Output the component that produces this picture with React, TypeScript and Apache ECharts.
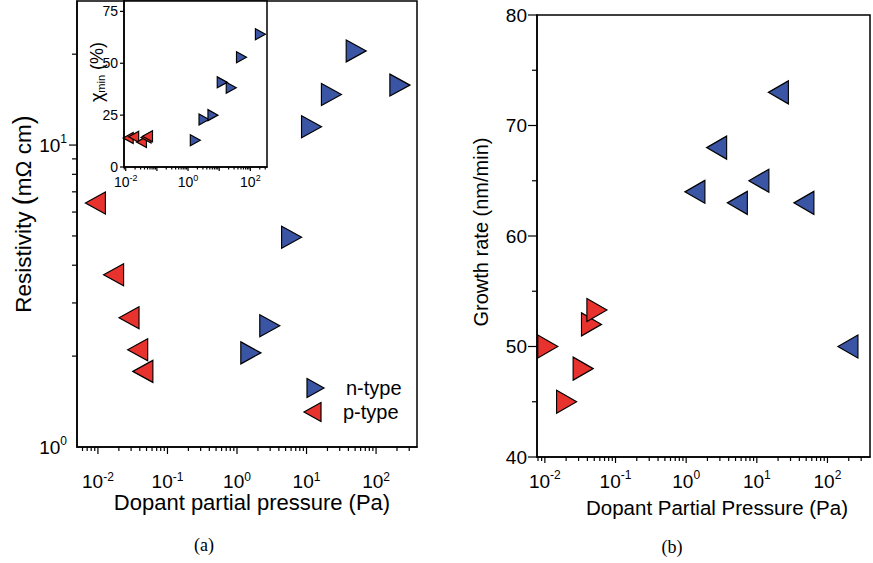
import { useEffect, useRef } from "react";
import * as echarts from "echarts";

// ---- Panel (a): resistivity vs dopant partial pressure ----
const nTypePressureA = [1.58, 2.96, 6.1, 11.8, 22.8, 51.8, 220];
const nTypeResistivity = [2.05, 2.52, 4.95, 11.5, 14.7, 20.5, 15.8];
const pTypePressureA = [0.0092, 0.0168, 0.028, 0.0373, 0.0443];
const pTypeResistivity = [6.43, 3.72, 2.68, 2.1, 1.78];

// ---- Inset of (a): chi_min vs dopant partial pressure ----
const nTypePressureInset = [1.71, 3.25, 6.3, 12.5, 24.3, 51.9, 210];
const nTypeChiMin = [12.9, 22.9, 25, 40.8, 38.2, 52.9, 64];
const pTypePressureInset = [0.012, 0.018, 0.032, 0.045, 0.05];
const pTypeChiMin = [14, 14.6, 12, 14.2, 14.8];

// ---- Panel (b): growth rate vs dopant partial pressure ----
const nTypePressureB = [1.33, 2.7, 5.3, 10.7, 20.2, 46.4, 195];
const nTypeGrowth = [64, 68, 63, 65, 73, 63, 50];
const pTypePressureB = [0.011, 0.0203, 0.0348, 0.0457, 0.0545];
const pTypeGrowth = [50, 45, 48, 52, 53.3];

// Axis ranges and labelled ticks
const xRangeA = [0.005, 388];
const yRangeA = [1, 30];
const xRangeInset = [0.0088, 342];
const insetLabelExponents = [-2, 0, 2];
const yRangeInset = [0, 80];
const chiTicks = [0, 25, 50, 75];
const xRangeB = [0.00774, 400];
const yRangeB = [40, 80];
const growthTicks = [40, 50, 60, 70, 80];
const growthMinorTicks = [45, 55, 65, 75];

const legendLabels = ["n-type", "p-type"];

const BLUE = "#3b55a5";
const RED = "#e8322e";
const FONT = "'Liberation Sans', Arial, sans-serif";
const SERIF = "'Liberation Serif', 'DejaVu Serif', serif";

const zip = (xs: number[], ys: number[]) => xs.map((x, i) => [x, ys[i]]);

// Decade (major) and 2..9 (minor) tick values within a log range
function logTickValues(min: number, max: number) {
  const out: { v: number; major: boolean }[] = [];
  for (let k = Math.floor(Math.log10(min)); k <= Math.ceil(Math.log10(max)); k++) {
    for (let m = 1; m <= 9; m++) {
      const v = m * Math.pow(10, k);
      if (v >= min * 1.0001 && v < max * 0.9999) out.push({ v, major: m === 1 });
    }
  }
  return out;
}

// tick rows: [x, y, length, orientation(0 = x axis, 1 = y axis)]
function xTicks(range: number[], yBase: number, majorLen: number, minorLen: number) {
  return logTickValues(range[0], range[1]).map((t) => [t.v, yBase, t.major ? majorLen : minorLen, 0]);
}
function yLogTicks(range: number[], xBase: number, majorLen: number, minorLen: number) {
  return logTickValues(range[0], range[1]).map((t) => [xBase, t.v, t.major ? majorLen : minorLen, 1]);
}

const tickRender = (_params: any, api: any) => {
  const x = api.value(0);
  const y = api.value(1);
  const len = api.value(2);
  const dir = api.value(3);
  const p = api.coord([x, y]);
  const shape =
    dir === 0
      ? { x1: p[0], y1: p[1], x2: p[0], y2: p[1] + len }
      : { x1: p[0] - len, y1: p[1], x2: p[0], y2: p[1] };
  return { type: "line", shape, style: { stroke: "#000", lineWidth: 1.2 } };
};

const exponentOf = (v: number) => {
  const e = Math.log10(v);
  const r = Math.round(e);
  return Math.abs(e - r) > 1e-6 ? null : r;
};

const powLabel = (v: number) => {
  const r = exponentOf(v);
  return r === null ? "" : `{m|10}{e|${r}}`;
};

const insetPowLabel = (v: number) => {
  const r = exponentOf(v);
  return r === null || !insetLabelExponents.includes(r) ? "" : `{m|10}{e|${r}}`;
};

const powRich = (size: number, sup: number, lh: number, supTop = 0) => ({
  m: { fontSize: size, fontFamily: FONT, color: "#000", lineHeight: lh },
  e: { fontSize: sup, fontFamily: FONT, color: "#000", verticalAlign: "top", lineHeight: sup, padding: [supTop, 0, 0, 0] },
});

const axisLine = { show: true, onZero: false, lineStyle: { color: "#000", width: 1.5 } };

function scatter(name: string, data: number[][], color: string, rotate: number, size: number[], xi: number, yi: number) {
  return {
    type: "scatter",
    name,
    xAxisIndex: xi,
    yAxisIndex: yi,
    data,
    symbol: "triangle",
    symbolRotate: rotate,
    symbolSize: size,
    itemStyle: { color, borderColor: "#000", borderWidth: 1.2, opacity: 1 },
    z: 5,
  };
}

function tickSeries(data: number[][], xi: number, yi: number) {
  return {
    type: "custom",
    xAxisIndex: xi,
    yAxisIndex: yi,
    clip: false,
    silent: true,
    renderItem: tickRender,
    data,
    z: 4,
  };
}

// Legend entry: a triangle pointing right (dir = 1) or left (dir = -1) with its label
function legendEntry(x: number, y: number, dir: number, color: string, label: string) {
  const w = 17;
  const h = 19;
  const pts =
    dir > 0
      ? [[x, y - h / 2], [x + w, y], [x, y + h / 2]]
      : [[x + w, y - h / 2], [x, y], [x + w, y + h / 2]];
  return [
    { type: "polygon", shape: { points: pts }, style: { fill: color, stroke: "#000", lineWidth: 1.2 }, z: 10 },
    {
      type: "text", x: x + 39, y,
      style: { text: label, fontSize: 20, fontFamily: FONT, fill: "#000", align: "left", verticalAlign: "middle" },
      z: 10,
    },
  ];
}

export default function App() {
  const ref = useRef<HTMLDivElement>(null);

  useEffect(() => {
    if (!ref.current) return;
    const chart = echarts.init(ref.current, undefined, { renderer: "svg" });

    const option: any = {
      animation: false,
      backgroundColor: "#fff",
      grid: [
        { left: 77, top: 1, width: 340, height: 446, show: true, borderColor: "#000", borderWidth: 1.5, backgroundColor: "transparent" },
        { left: 124, top: 1, width: 143, height: 166, show: true, borderColor: "#000", borderWidth: 1.5, backgroundColor: "#fff" },
        { left: 537, top: 15, width: 339, height: 442, show: true, borderColor: "#000", borderWidth: 1.5, backgroundColor: "transparent" },
      ],
      xAxis: [
        {
          gridIndex: 0, type: "log", logBase: 10, min: xRangeA[0], max: xRangeA[1],
          axisLine, axisTick: { show: false }, splitLine: { show: false },
          axisLabel: { formatter: powLabel, margin: 17, rich: powRich(19, 12, 34, 7) },
        },
        {
          gridIndex: 1, type: "log", logBase: 10, min: xRangeInset[0], max: xRangeInset[1],
          axisLine, axisTick: { show: false }, splitLine: { show: false },
          axisLabel: { formatter: insetPowLabel, margin: 6, rich: powRich(14, 9, 17) },
        },
        {
          gridIndex: 2, type: "log", logBase: 10, min: xRangeB[0], max: xRangeB[1],
          axisLine, axisTick: { show: false }, splitLine: { show: false },
          axisLabel: { formatter: powLabel, margin: 12, rich: powRich(19, 12, 24) },
        },
      ],
      yAxis: [
        {
          gridIndex: 0, type: "log", logBase: 10, min: yRangeA[0], max: yRangeA[1],
          axisLine, axisTick: { show: false }, splitLine: { show: false },
          axisLabel: { formatter: powLabel, margin: 10, rich: powRich(19, 12, 24) },
        },
        {
          gridIndex: 1, type: "value", min: yRangeInset[0], max: yRangeInset[1], interval: 25,
          axisLine, axisTick: { show: false }, splitLine: { show: false },
          axisLabel: {
            margin: 6, fontSize: 14, fontFamily: FONT, color: "#000",
            formatter: (v: number) => (chiTicks.includes(v) ? String(v) : ""),
          },
        },
        {
          gridIndex: 2, type: "value", min: yRangeB[0], max: yRangeB[1], interval: 10,
          axisLine, axisTick: { show: false }, splitLine: { show: false },
          axisLabel: { margin: 10, fontSize: 19, fontFamily: FONT, color: "#000" },
        },
      ],
      series: [
        scatter("n-type", zip(nTypePressureA, nTypeResistivity), BLUE, -90, [22, 20], 0, 0),
        scatter("p-type", zip(pTypePressureA, pTypeResistivity), RED, 90, [22, 20], 0, 0),
        scatter("n-type chi", zip(nTypePressureInset, nTypeChiMin), BLUE, -90, [11, 10], 1, 1),
        scatter("p-type chi", zip(pTypePressureInset, pTypeChiMin), RED, 90, [11, 10], 1, 1),
        scatter("n-type growth", zip(nTypePressureB, nTypeGrowth), BLUE, 90, [23, 20], 2, 2),
        scatter("p-type growth", zip(pTypePressureB, pTypeGrowth), RED, -90, [23, 20], 2, 2),
        tickSeries([...xTicks(xRangeA, yRangeA[0], 7, 4), ...yLogTicks(yRangeA, xRangeA[0], 8, 5)], 0, 0),
        tickSeries([...xTicks(xRangeInset, yRangeInset[0], 4, 2.5), ...chiTicks.map((v) => [xRangeInset[0], v, 4, 1])], 1, 1),
        tickSeries(
          [
            ...xTicks(xRangeB, yRangeB[0], 6, 4),
            ...growthTicks.map((v) => [xRangeB[0], v, 9, 1]),
            ...growthMinorTicks.map((v) => [xRangeB[0], v, 5, 1]),
          ],
          2, 2
        ),
      ],
      graphic: [
        ...legendEntry(307, 388, 1, BLUE, legendLabels[0]),
        ...legendEntry(304, 412, -1, RED, legendLabels[1]),
        {
          type: "text", x: 23, y: 214, rotation: Math.PI / 2,
          style: {
            text: "{t|Resistivity }{p|(}{t|mΩ cm}{p|)}",
            align: "center", verticalAlign: "middle",
            rich: {
              t: { fontSize: 22.5, fontFamily: FONT, fill: "#000" },
              p: { fontSize: 27, fontFamily: FONT, fill: "#000" },
            },
          },
        },
        {
          type: "text", x: 252, y: 502,
          style: { text: "Dopant partial pressure (Pa)", fontSize: 22, fontFamily: FONT, fill: "#000", align: "center", verticalAlign: "middle" },
        },
        {
          type: "text", x: 204, y: 545,
          style: { text: "(a)", fontSize: 18, fontFamily: SERIF, fill: "#000", align: "center", verticalAlign: "middle" },
        },
        {
          type: "text", x: 97, y: 72, rotation: Math.PI / 2,
          style: {
            text: "{c|χ}{s|min}{c| (%)}",
            align: "center", verticalAlign: "middle",
            rich: {
              c: { fontSize: 18, fontFamily: FONT, fill: "#000" },
              s: { fontSize: 11, fontFamily: FONT, fill: "#000", verticalAlign: "bottom" },
            },
          },
        },
        {
          type: "text", x: 481, y: 232, rotation: Math.PI / 2,
          style: { text: "Growth rate (nm/min)", fontSize: 20, fontFamily: FONT, fill: "#000", align: "center", verticalAlign: "middle" },
        },
        {
          type: "text", x: 717, y: 507,
          style: { text: "Dopant Partial Pressure (Pa)", fontSize: 20.5, fontFamily: FONT, fill: "#000", align: "center", verticalAlign: "middle" },
        },
        {
          type: "text", x: 672, y: 547,
          style: { text: "(b)", fontSize: 18, fontFamily: SERIF, fill: "#000", align: "center", verticalAlign: "middle" },
        },
      ],
    };

    chart.setOption(option);
    return () => chart.dispose();
  }, []);

  return <div ref={ref} style={{ position: "fixed", left: 0, top: 0, width: 873, height: 563 }} />;
}
